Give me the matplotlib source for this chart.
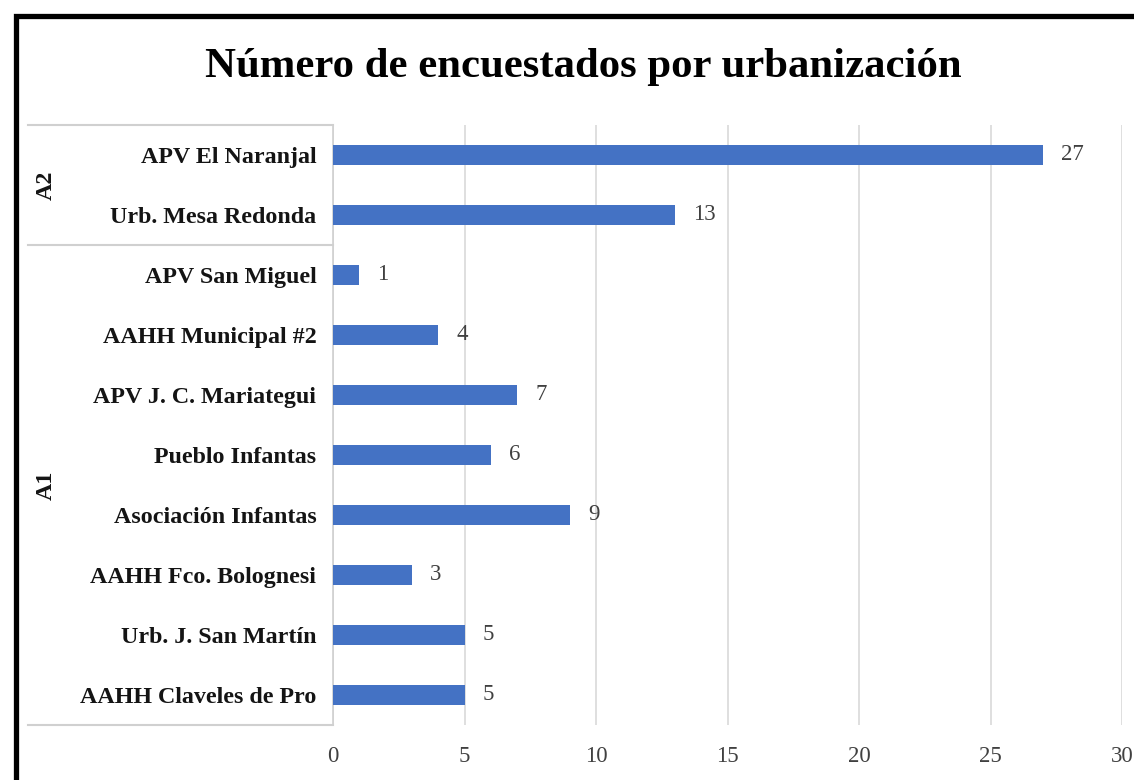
import matplotlib
matplotlib.use("Agg")
import matplotlib.pyplot as plt
from matplotlib.patches import Rectangle
import matplotlib.transforms as mtransforms

categories = ["APV El Naranjal", "Urb. Mesa Redonda", "APV San Miguel",
              "AAHH Municipal #2", "APV J. C. Mariategui", "Pueblo Infantas",
              "Asociación Infantas", "AAHH Fco. Bolognesi", "Urb. J. San Martín",
              "AAHH Claveles de Pro"]
values = [27, 13, 1, 4, 7, 6, 9, 3, 5, 5]
groups = ["A2", "A2", "A1", "A1", "A1", "A1", "A1", "A1", "A1", "A1"]
xticks = [0, 5, 10, 15, 20, 25, 30]
title = "Número de encuestados por urbanización"

plt.rcParams['font.family'] = ['Liberation Serif', 'DejaVu Serif']

W, H = 1134, 780
fig = plt.figure(figsize=(W / 100, H / 100), dpi=100)
fig.patch.set_facecolor("white")

left, right, top, bottom = 333, 1122, 125, 725
ax = fig.add_axes([left / W, 1 - bottom / H, (right - left) / W, (bottom - top) / H])

ypos = list(range(len(categories)))
ax.barh(ypos, values, height=0.34, color="#4472C4", zorder=3)
ax.set_ylim(len(categories) - 0.5, -0.5)
ax.set_xlim(0, 30)
ax.set_xticks(xticks)
ax.set_xticklabels([str(t) for t in xticks], fontsize=16.5, color="#404040")
ax.set_yticks(ypos)
ax.set_yticklabels(categories, fontsize=17.3, fontweight="bold", color="#141414")
ax.tick_params(axis="y", length=0, pad=12)
ax.tick_params(axis="x", length=0, pad=15)
ax.grid(axis="x", color="#d9d9d9", linewidth=1.2, zorder=0)
for s in ["top", "right", "bottom"]:
    ax.spines[s].set_visible(False)
ax.spines["left"].set_color("#d0d0d0")
ax.spines["left"].set_linewidth(1.2)

# data labels
for y, v in zip(ypos, values):
    ax.annotate(str(v), (v, y), xytext=(13, 0), textcoords="offset points",
                va="center", ha="left", fontsize=16.5, color="#404040")

# group separators and labels
trans = mtransforms.blended_transform_factory(ax.transAxes, ax.transData)
x0 = (28 - left) / (right - left)
bounds = [-0.5]
labels_pos = []
start = 0
for i in range(1, len(groups) + 1):
    if i == len(groups) or groups[i] != groups[start]:
        bounds.append(i - 0.5)
        labels_pos.append(((start + i - 1) / 2, groups[start]))
        start = i
for b in bounds:
    ax.plot([x0, 0], [b, b], transform=trans, color="#d0d0d0", linewidth=1.5,
            clip_on=False, zorder=2)
xg = (46 - left) / (right - left)
for yc, g in labels_pos:
    ax.text(xg, yc, g, transform=trans, rotation=90, ha="center", va="center",
            fontsize=17.3, fontweight="bold", color="#141414")

fig.text(583 / W, 1 - 67 / H, title, ha="center", va="center",
         fontsize=30.8, fontweight="bold", color="black")

# outer black frame
fig.patches.append(Rectangle((15.5 / W, -0.1), 1.2, 1 - 15.5 / H + 0.1,
                             transform=fig.transFigure, fill=False,
                             edgecolor="black", linewidth=3.8, zorder=10))

fig.savefig("out.png", dpi=100)
